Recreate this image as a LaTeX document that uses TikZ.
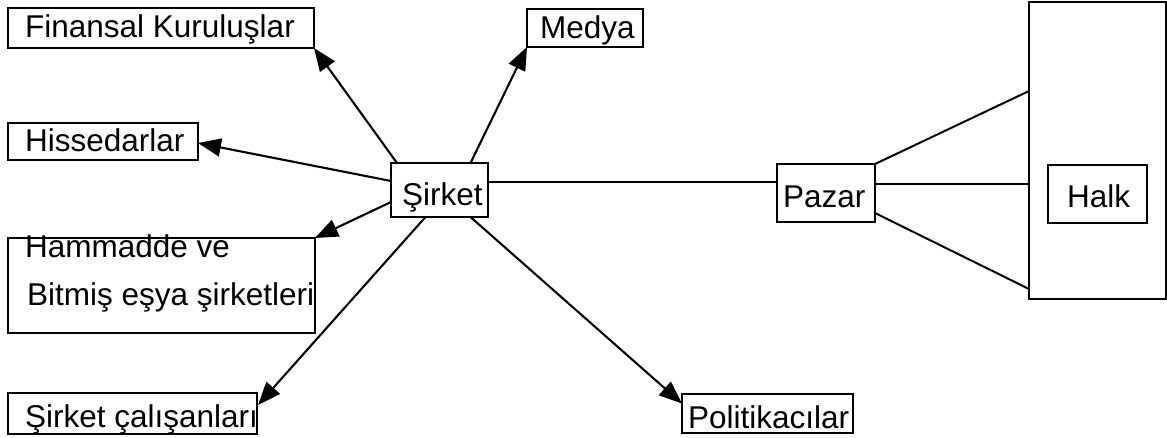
\documentclass[tikz,border=0pt]{standalone}
\usepackage{fontspec}
\setmainfont{Liberation Sans}
\usetikzlibrary{arrows.meta,calc}
\begin{document}
\begin{tikzpicture}[x=1pt,y=-1pt,
  box/.style={draw=black,line width=1.6pt,rectangle,inner sep=0pt,outer sep=0pt,anchor=north west},
  txt/.style={inner sep=0pt,anchor=base west,font=\fontsize{31.5}{36}\selectfont},
  arr/.style={line width=2.1pt,-{Triangle[length=23pt,width=18pt]}},
  conn/.style={line width=1.5pt},
  thickconn/.style={line width=2pt}]
\useasboundingbox (0,0) rectangle (1167,437);
% boxes
\node[box,minimum width=306pt,minimum height=40pt] (finansal) at (8,8) {};
\node[box,minimum width=116pt,minimum height=38pt] (medya) at (527,9) {};
\node[box,minimum width=190pt,minimum height=37pt] (hissedar) at (8,123) {};
\node[box,minimum width=97pt,minimum height=54pt] (sirket) at (391,163) {};
\node[box,minimum width=307pt,minimum height=95pt] (hammadde) at (8,238) {};
\node[box,minimum width=249pt,minimum height=41pt] (calisan) at (8,393) {};
\node[box,minimum width=171pt,minimum height=39pt] (politik) at (682,394) {};
\node[box,minimum width=98pt,minimum height=58pt] (pazar) at (777,164) {};
\node[box,minimum width=137pt,minimum height=297pt] (halkbig) at (1029,2) {};
\node[box,minimum width=99pt,minimum height=58pt] (halk) at (1048,165) {};
% texts
\node[txt] (t-finansal) at (25,37) {Finansal Kuruluşlar};
\node[txt] (t-medya) at (540,38) {Medya};
\node[txt] (t-hissedar) at (25,151) {Hissedarlar};
\node[txt] (t-sirket) at (402,205) {Şirket};
\node[txt] (t-ham1) at (25,257) {Hammadde ve};
\node[txt] (t-ham2) at (27,305) {Bitmiş eşya şirketleri};
\node[txt] (t-calisan) at (25,427) {Şirket çalışanları};
\node[txt] (t-politik) at (688,428) {Politikacılar};
\node[txt] (t-pazar) at (783,207) {Pazar};
\node[txt] (t-halk) at (1067,207) {Halk};
% arrows
\draw[arr] ($(sirket.north west)+(6,0)$) -- (finansal.south east);
\draw[arr] ($(sirket.north)+(31,0)$) -- (medya.south west);
\draw[arr] ($(sirket.west)+(0,-9)$) -- ($(hissedar.east)+(0,1.5)$);
\draw[arr] ($(sirket.west)+(0,12)$) -- (hammadde.north east);
\draw[arr] ($(sirket.south)+(-14,0)$) -- ($(calisan.north east)+(1,12)$);
\draw[arr] ($(sirket.south)+(31,0)$) -- ($(politik.west)+(0,-10)$);
% connectors
\draw[conn] ($(sirket.east)+(0,-8)$) -- ($(pazar.west)+(0,-11)$);
\draw[thickconn] (pazar.north east) -- ($(halkbig.north west)+(0,89)$);
\draw[conn] ($(pazar.east)+(0,-9)$) -- ($(halkbig.north west)+(0,182)$);
\draw[thickconn] ($(pazar.south east)+(0,-9)$) -- ($(halkbig.north west)+(0,287)$);
\end{tikzpicture}
\end{document}
